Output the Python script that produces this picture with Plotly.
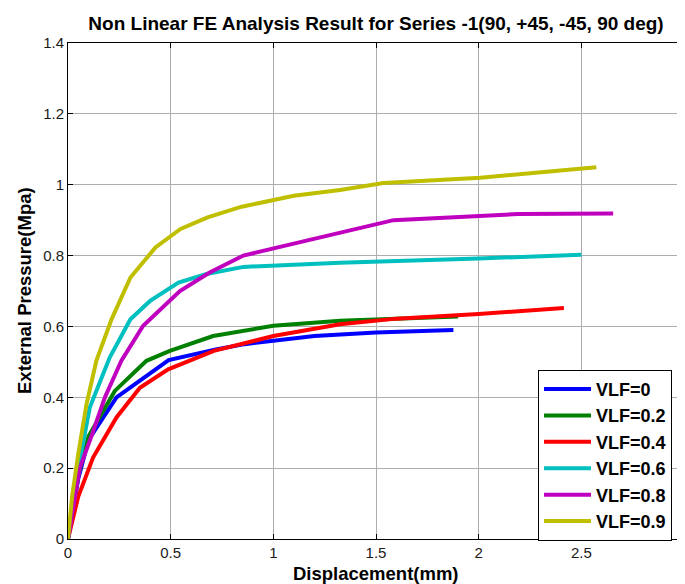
import plotly.graph_objects as go

labels = ["VLF=0", "VLF=0.2", "VLF=0.4", "VLF=0.6", "VLF=0.8", "VLF=0.9"]
colors = ["#0000FF", "#008000", "#FF0000", "#00BFBF", "#BF00BF", "#BFBF00"]

x_vlf0 = [0, 0.05, 0.1, 0.236, 0.49, 0.72, 0.86, 1.2, 1.5, 1.877]
y_vlf0 = [0, 0.17, 0.28, 0.40, 0.505, 0.535, 0.55, 0.573, 0.583, 0.59]

x_vlf02 = [0, 0.05, 0.1, 0.228, 0.382, 0.496, 0.707, 1.0, 1.325, 1.9]
y_vlf02 = [0, 0.18, 0.29, 0.418, 0.503, 0.531, 0.573, 0.602, 0.616, 0.628]

x_vlf04 = [0, 0.05, 0.122, 0.236, 0.35, 0.488, 0.71, 1.0, 1.325, 1.6, 2.0, 2.415]
y_vlf04 = [0, 0.12, 0.23, 0.343, 0.427, 0.479, 0.531, 0.573, 0.606, 0.622, 0.635, 0.652]

x_vlf06 = [0, 0.05, 0.106, 0.203, 0.304, 0.4, 0.538, 0.675, 0.854, 1.325, 2.0, 2.5]
y_vlf06 = [0, 0.2, 0.371, 0.512, 0.62, 0.672, 0.724, 0.748, 0.768, 0.78, 0.792, 0.802]

x_vlf08 = [0, 0.057, 0.12, 0.18, 0.26, 0.366, 0.545, 0.69, 0.854, 1.325, 1.585, 2.19, 2.655]
y_vlf08 = [0, 0.2, 0.3, 0.4, 0.503, 0.602, 0.70, 0.752, 0.8, 0.865, 0.9, 0.917, 0.919]

x_vlf09 = [0, 0.02, 0.05, 0.09, 0.138, 0.212, 0.304, 0.426, 0.548, 0.68, 0.846, 1.1, 1.325, 1.537, 2.008, 2.573]
y_vlf09 = [0, 0.12, 0.24, 0.38, 0.503, 0.62, 0.738, 0.823, 0.875, 0.908, 0.938, 0.969, 0.985, 1.005, 1.02, 1.049]

xs = [x_vlf0, x_vlf02, x_vlf04, x_vlf06, x_vlf08, x_vlf09]
ys = [y_vlf0, y_vlf02, y_vlf04, y_vlf06, y_vlf08, y_vlf09]

x_ticks = [0, 0.5, 1, 1.5, 2, 2.5, 3]
y_ticks = [0, 0.2, 0.4, 0.6, 0.8, 1, 1.2, 1.4]

title_text = "Non Linear FE Analysis Result for Series -1(90, +45, -45, 90 deg)"
x_title = "Displacement(mm)"
y_title = "External Pressure(Mpa)"

fig = go.Figure()
for x, y, lab, c in zip(xs, ys, labels, colors):
    fig.add_trace(go.Scatter(x=x, y=y, mode="lines", name=lab,
                             line=dict(color=c, width=4)))

font = "Liberation Sans, Arial, sans-serif"
axis_common = dict(showgrid=True, gridcolor="#adadad", gridwidth=1,
                   showline=True, linecolor="black", linewidth=1, mirror="ticks",
                   ticks="inside", ticklen=5, tickcolor="black",
                   zeroline=False, automargin=False, ticklabeloverflow="allow",
                   tickfont=dict(family=font, size=15, color="#1a1a1a"))

# page body has an 8px margin: figure is 677x576 so it fits the 685x584 window
W, H = 677, 576
fig.update_layout(
    width=W, height=H,
    margin=dict(l=60, r=1, t=35, b=45),
    paper_bgcolor="white", plot_bgcolor="white",
    title=dict(text="<b>" + title_text + "</b>",
               x=0.5, xref="paper", y=1 - 15.5 / H, yref="container",
               xanchor="center", yanchor="middle",
               font=dict(family=font, size=19, color="black")),
    xaxis=dict(range=[0, 3], tickvals=x_ticks, ticktext=[("%g" % t) for t in x_ticks],
               **axis_common),
    yaxis=dict(range=[0, 1.4], tickvals=y_ticks, ticktext=[("%g" % t) for t in y_ticks],
               **axis_common),
    legend=dict(x=0.763, y=0.341, xanchor="left", yanchor="top",
                bgcolor="white", bordercolor="black", borderwidth=1,
                font=dict(family=font, size=18, color="black", weight="bold"),
                itemwidth=47, tracegroupgap=0),
    showlegend=True,
    annotations=[
        dict(text="<b>" + x_title + "</b>", xref="paper", yref="paper", x=0.5, y=0,
             xanchor="center", yanchor="middle", yshift=-34, showarrow=False,
             font=dict(family=font, size=18.5, color="black")),
        dict(text="<b>" + y_title + "</b>", xref="paper", yref="paper", x=0, y=0.5,
             xanchor="center", yanchor="middle", xshift=-44, textangle=-90, showarrow=False,
             font=dict(family=font, size=18.5, color="black")),
    ],
)

fig.write_html("out.html")
